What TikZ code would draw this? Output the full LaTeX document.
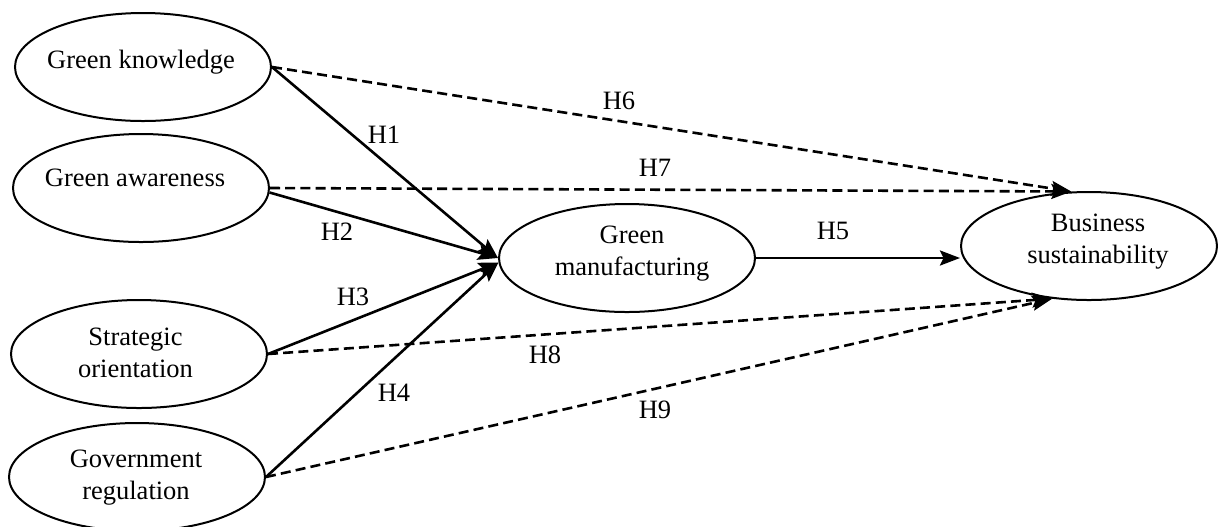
\documentclass[tikz,border=0pt]{standalone}
\usepackage{fontspec}
\setmainfont{Liberation Serif}
\usetikzlibrary{arrows.meta,shapes.geometric}
\begin{document}
\begin{tikzpicture}[x=0.5pt,y=-0.5pt,
  construct/.style={draw, ellipse, line width=1pt, minimum width=128pt, minimum height=54pt, inner sep=0pt},
  lbl/.style={font=\fontsize{13.25}{16}\selectfont, align=center, inner sep=0pt},
  solidarrow/.style={line width=1.3pt, -{Stealth[length=10pt,width=7.5pt,inset=1.8pt]}},
  dasharrow/.style={line width=1.3pt, dash pattern=on 5pt off 2.6pt, -{Stealth[length=10pt,width=7.5pt,inset=1.8pt]}},
]
\useasboundingbox (0,0) rectangle (1218,526);
% constructs
\node[construct] (gk) at (143,67) {};
\node[construct] (ga) at (141,188) {};
\node[construct] (so) at (139,354) {};
\node[construct] (gr) at (137,477) {};
\node[construct] (gm) at (627,258) {};
\node[construct] (bs) at (1089,246) {};
% texts
\node[lbl] (gkt) at (141,62) {Green knowledge};
\node[lbl] (gat) at (135,178) {Green awareness};
\node[lbl] (sot) at (135.5,353) {Strategic\\orientation};
\node[lbl] (grt) at (136,478) {Government\\regulation};
\node[lbl] (gmt) at (632,253.5) {Green\\manufacturing};
\node[lbl] (bst) at (1098,242) {Business\\sustainability};
% solid paths
\draw[solidarrow] (gk.east) -- (gm.west);
\draw[solidarrow] (ga.-2.5) -- (gm.west);
\draw[solidarrow] (so.east) -- (gm.182);
\draw[solidarrow] (gr.east) -- (gm.182);
\draw[solidarrow] (gm.east) -- (bs.west |- gm.east);
% dashed paths
\draw[dasharrow] (gk.east) -- (bs.108);
\draw[dasharrow] (ga.east) -- (bs.108);
\draw[dasharrow] (so.east) -- (bs.235);
\draw[dasharrow] (gr.east) -- (bs.235);
% labels
\node[lbl] (h1) at (384,135) {H1};
\node[lbl] (h2) at (337,232) {H2};
\node[lbl] (h3) at (353,297) {H3};
\node[lbl] (h4) at (394,393) {H4};
\node[lbl] (h5) at (833,231) {H5};
\node[lbl] (h6) at (619,101) {H6};
\node[lbl] (h7) at (655,168) {H7};
\node[lbl] (h8) at (545,355) {H8};
\node[lbl] (h9) at (655,410) {H9};
\end{tikzpicture}
\end{document}
